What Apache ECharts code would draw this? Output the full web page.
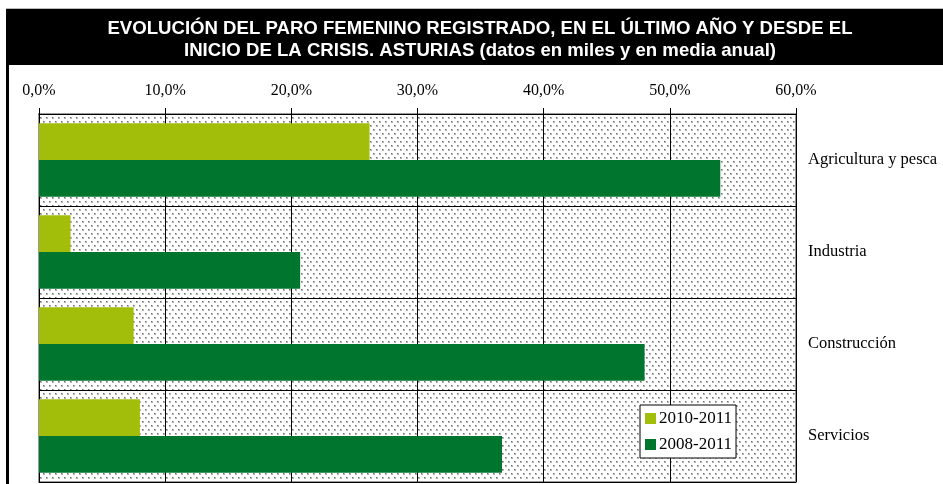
<!DOCTYPE html>
<html>
<head>
<meta charset="utf-8">
<script src="https://cdn.jsdelivr.net/npm/echarts@6/dist/echarts.min.js"></script>
<style>
  html, body { margin: 0; padding: 0; background: #fff; }
  #chart { width: 943px; height: 484px; }
</style>
</head>
<body>
<div id="chart"></div>
<script>
// datos (% de variacion del paro femenino)
var categories = ["Agricultura y pesca", "Industria", "Construcción", "Servicios"];
var serie2010_2011 = [26.2, 2.5, 7.5, 8.0];
var serie2008_2011 = [54.0, 20.7, 48.0, 36.7];
var seriesNames = ["2010-2011", "2008-2011"];
var xTicks = [0, 10, 20, 30, 40, 50, 60];

// trama de puntos del fondo
function dotPattern() {
  var c = document.createElement("canvas");
  c.width = 6;
  c.height = 8;
  var ctx = c.getContext("2d");
  ctx.fillStyle = "#fff";
  ctx.fillRect(0, 0, 6, 8);
  ctx.fillStyle = "#b4b4b4";
  ctx.fillRect(1, 1, 2, 2);
  ctx.fillRect(4, 5, 2, 2);
  ctx.fillStyle = "#6e6e6e";
  ctx.fillRect(1, 1, 1, 1);
  ctx.fillRect(4, 5, 1, 1);
  return { image: c, repeat: "repeat" };
}

var chart = echarts.init(document.getElementById("chart"));
var serif = "Liberation Serif, Times New Roman, serif";

var option = {
  backgroundColor: "#fff",
  animation: false,
  title: {
    text: "EVOLUCIÓN DEL PARO FEMENINO REGISTRADO, EN EL ÚLTIMO AÑO Y DESDE EL\nINICIO DE LA CRISIS. ASTURIAS (datos en miles y en media anual)",
    left: 475,
    top: 13,
    textAlign: "center",
    textStyle: {
      color: "#fff",
      fontFamily: "Liberation Sans, Arial, sans-serif",
      fontWeight: "bold",
      fontSize: 18.6,
      lineHeight: 22,
    },
  },
  graphic: [
    {
      type: "rect",
      z: -1,
      shape: { x: 6, y: 9, width: 940, height: 56 },
      style: { fill: "#000" },
    },
    {
      type: "line",
      shape: { x1: 6, y1: 8.5, x2: 943, y2: 8.5 },
      style: { stroke: "#bbb", lineWidth: 1 },
    },
    {
      type: "rect",
      shape: { x: 6, y: 65, width: 3, height: 420 },
      style: { fill: "#000" },
    },
  ],
  legend: {
    data: seriesNames,
    orient: "vertical",
    left: 640,
    top: 405,
    itemWidth: 11,
    itemHeight: 11,
    itemGap: 9,
    padding: [5, 4, 5, 5],
    icon: "rect",
    backgroundColor: "#fff",
    borderColor: "#000",
    borderWidth: 1,
    borderRadius: 0,
    textStyle: {
      fontFamily: serif,
      fontSize: 17,
      color: "#000",
      padding: [0, 0, 0, -2],
    },
  },
  grid: {
    left: 39,
    right: 147,
    top: 114,
    bottom: 2,
    show: true,
    backgroundColor: dotPattern(),
    borderColor: "#999",
    borderWidth: 2,
  },
  xAxis: {
    type: "value",
    position: "top",
    min: xTicks[0],
    max: xTicks[xTicks.length - 1],
    interval: 10,
    axisLine: { show: true, lineStyle: { color: "#000", width: 1 } },
    axisTick: { show: true, length: 6, lineStyle: { color: "#000" } },
    axisLabel: {
      margin: 15,
      fontFamily: serif,
      fontSize: 16,
      color: "#000",
      formatter: function (v) {
        return v.toFixed(1).replace(".", ",") + "%";
      },
    },
    splitLine: { show: true, lineStyle: { color: "#000", width: 1 } },
  },
  yAxis: {
    type: "category",
    data: categories,
    inverse: true,
    position: "right",
    axisLine: { show: false },
    axisTick: { show: false },
    axisLabel: {
      margin: 12,
      fontFamily: serif,
      fontSize: 16.5,
      color: "#000",
    },
    splitLine: { show: true, lineStyle: { color: "#000", width: 1 } },
  },
  series: [
    {
      name: seriesNames[0],
      type: "bar",
      data: serie2010_2011,
      barCategoryGap: "20%",
      barGap: "0%",
      itemStyle: { color: "#a2bd0a" },
    },
    {
      name: seriesNames[1],
      type: "bar",
      data: serie2008_2011,
      barCategoryGap: "20%",
      barGap: "0%",
      itemStyle: { color: "#00752e" },
    },
  ],
};

chart.setOption(option);
</script>
</body>
</html>
